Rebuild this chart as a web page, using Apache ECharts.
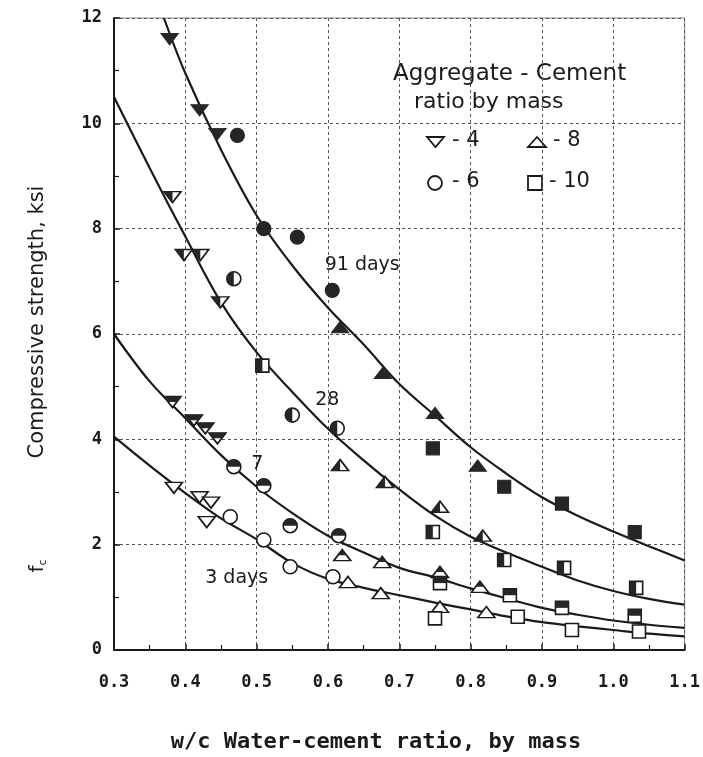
<!DOCTYPE html>
<html><head><meta charset="utf-8">
<script src="https://cdn.jsdelivr.net/npm/echarts/dist/echarts.min.js"></script>
<style>html,body{margin:0;padding:0;background:#fff}#c{width:703px;height:757px}</style>
</head><body><div id="c"></div>
<script>
// ---- axis ----
const xMin = 0.3, xMax = 1.1, xStep = 0.1;
const yMin = 0, yMax = 12, yStep = 2;

// ---- fitted curves ----
const curve91 = [[0.37,12.0],[0.4,10.95],[0.45,9.5],[0.5,8.25],[0.55,7.3],[0.6,6.5],[0.65,5.8],[0.7,5.05],[0.75,4.45],[0.8,3.85],[0.85,3.35],[0.9,2.9],[0.95,2.55],[1.0,2.25],[1.05,1.97],[1.1,1.7]];
const curve28 = [[0.3,10.5],[0.35,9.15],[0.4,7.85],[0.45,6.6],[0.5,5.65],[0.55,4.9],[0.6,4.2],[0.65,3.6],[0.7,3.05],[0.75,2.55],[0.8,2.15],[0.85,1.85],[0.9,1.58],[0.95,1.32],[1.0,1.12],[1.05,0.97],[1.1,0.86]];
const curve7  = [[0.3,6.0],[0.35,5.1],[0.4,4.4],[0.45,3.7],[0.5,3.1],[0.55,2.6],[0.6,2.17],[0.65,1.85],[0.7,1.56],[0.75,1.38],[0.8,1.17],[0.85,0.98],[0.9,0.8],[0.95,0.67],[1.0,0.56],[1.05,0.48],[1.1,0.42]];
const curve3  = [[0.3,4.05],[0.35,3.5],[0.4,2.98],[0.45,2.5],[0.5,2.1],[0.55,1.65],[0.6,1.35],[0.65,1.18],[0.7,1.04],[0.75,0.9],[0.8,0.77],[0.85,0.64],[0.9,0.53],[0.95,0.45],[1.0,0.38],[1.05,0.31],[1.1,0.26]];

// ---- measured points: age (days) x aggregate-cement ratio ----
const d91_r4  = [[0.378,11.6],[0.42,10.25],[0.445,9.8]];
const d91_r6  = [[0.473,9.77],[0.51,8.0],[0.557,7.84],[0.606,6.83]];
const d91_r8  = [[0.617,6.13],[0.677,5.26],[0.75,4.5],[0.81,3.5]];
const d91_r10 = [[0.747,3.83],[0.847,3.1],[0.928,2.78],[1.03,2.24]];

const d28_r4  = [[0.382,8.6],[0.398,7.5],[0.421,7.5],[0.449,6.6]];
const d28_r6  = [[0.468,7.05],[0.55,4.46],[0.613,4.21]];
const d28_r8  = [[0.617,3.51],[0.68,3.19],[0.757,2.72],[0.817,2.17]];
const d28_r10 = [[0.508,5.4],[0.747,2.24],[0.847,1.71],[0.931,1.56],[1.032,1.18]];

const d7_r4  = [[0.382,4.71],[0.412,4.36],[0.428,4.21],[0.445,4.02]];
const d7_r6  = [[0.468,3.48],[0.51,3.12],[0.547,2.36],[0.615,2.17]];
const d7_r8  = [[0.62,1.8],[0.676,1.67],[0.757,1.48],[0.813,1.2]];
const d7_r10 = [[0.757,1.27],[0.855,1.04],[0.928,0.8],[1.03,0.65]];

const d3_r4  = [[0.384,3.08],[0.42,2.9],[0.436,2.8],[0.43,2.43]];
const d3_r6  = [[0.463,2.53],[0.51,2.09],[0.547,1.58],[0.607,1.39]];
const d3_r8  = [[0.628,1.29],[0.674,1.08],[0.757,0.82],[0.822,0.72]];
const d3_r10 = [[0.75,0.6],[0.866,0.63],[0.942,0.38],[1.036,0.35]];

// ---- curve labels ----
const curveLabelText = ['91 days', '28', '7', '3 days'];
const curveLabelAt = [[0.648,7.31],[0.599,4.75],[0.501,3.53],[0.472,1.37]];

const INK = '#1a1a1a';
const FONT = '"DejaVu Sans", sans-serif';
const MONO = '"DejaVu Sans Mono", monospace';

const shape = {
  r4:  {sym:'path://M0,0 L20,0 L10,12 Z', size:[17,11]},
  r6:  {sym:'circle', size:[14,14]},
  r8:  {sym:'path://M10,0 L20,12 L0,12 Z', size:[17,11]},
  r10: {sym:'rect', size:[13,13]}
};
const halfLeft = {
  r4:  {sym:'path://M0,0 L10,0 L10,12 Z', size:[8.5,11], off:[-4.25,0]},
  r6:  {sym:'path://M10,0 A10,10 0 0 0 10,20 Z', size:[7,14], off:[-3.5,0]},
  r8:  {sym:'path://M10,0 L10,12 L0,12 Z', size:[8.5,11], off:[-4.25,0]},
  r10: {sym:'rect', size:[6.5,13], off:[-3.25,0]}
};
const halfTop = {
  r4:  {sym:'path://M0,0 L20,0 L15,6 L5,6 Z', size:[17,5.5], off:[0,-2.75]},
  r6:  {sym:'path://M0,10 A10,10 0 0 1 20,10 Z', size:[14,7], off:[0,-3.5]},
  r8:  {sym:'path://M10,0 L15,6 L5,6 Z', size:[8.5,5.5], off:[0,-2.75]},
  r10: {sym:'rect', size:[13,6.5], off:[0,-3.25]}
};

const groups = [
  {fill:'full', sets:{r4:d91_r4, r6:d91_r6, r8:d91_r8, r10:d91_r10}},
  {fill:'left', sets:{r4:d28_r4, r6:d28_r6, r8:d28_r8, r10:d28_r10}},
  {fill:'top',  sets:{r4:d7_r4,  r6:d7_r6,  r8:d7_r8,  r10:d7_r10}},
  {fill:'none', sets:{r4:d3_r4,  r6:d3_r6,  r8:d3_r8,  r10:d3_r10}}
];

const series = [];
[curve91, curve28, curve7, curve3].forEach(c => {
  series.push({type:'line', data:c, smooth:0.35, symbol:'none', z:2,
    lineStyle:{color:INK, width:2.2}, silent:true});
});
groups.forEach(g => {
  Object.keys(g.sets).forEach(k => {
    const s = shape[k];
    series.push({type:'scatter', data:g.sets[k], symbol:s.sym, symbolSize:s.size, z:3,
      itemStyle: g.fill === 'full'
        ? {color:'#262626', borderColor:'#262626', borderWidth:1.2, opacity:1}
        : {color:'#fff', borderColor:INK, borderWidth:1.6, opacity:1}});
    if (g.fill === 'left' || g.fill === 'top') {
      const h = (g.fill === 'left' ? halfLeft : halfTop)[k];
      series.push({type:'scatter', data:g.sets[k], symbol:h.sym, symbolSize:h.size,
        symbolOffset:h.off, z:4, itemStyle:{color:'#262626', borderWidth:0, opacity:1}});
    }
  });
});

const chart = echarts.init(document.getElementById('c'), null, {renderer:'canvas'});
const axisBase = {
  axisLine:{show:true, lineStyle:{color:INK, width:2}},
  axisTick:{show:true, inside:true, length:6, lineStyle:{color:INK, width:1.5}},
  minorTick:{show:true, splitNumber:2, length:5, lineStyle:{color:INK, width:1.2}},
  splitLine:{show:true, lineStyle:{color:'#555', width:1, type:[3,3]}}
};
const staticGraphics = [
  {id:'t1', type:'text', left:393, top:63, style:{text:'Aggregate - Cement', font:'23px '+FONT, fill:INK}},
  {id:'t2', type:'text', left:414, top:91, style:{text:'ratio by mass', font:'22px '+FONT, fill:INK}},
  {id:'s4', type:'polygon', shape:{points:[[427,137],[444,137],[435.5,147]]}, style:{fill:'#fff', stroke:INK, lineWidth:1.8}},
  {id:'l4', type:'text', left:452, top:130, style:{text:'- 4', font:'21px '+FONT, fill:INK}},
  {id:'s8', type:'polygon', shape:{points:[[537,137],[546,147],[528,147]]}, style:{fill:'#fff', stroke:INK, lineWidth:1.8}},
  {id:'l8', type:'text', left:553, top:130, style:{text:'- 8', font:'21px '+FONT, fill:INK}},
  {id:'s6', type:'circle', shape:{cx:435, cy:183, r:7}, style:{fill:'#fff', stroke:INK, lineWidth:1.8}},
  {id:'l6', type:'text', left:452, top:171, style:{text:'- 6', font:'21px '+FONT, fill:INK}},
  {id:'s10', type:'rect', shape:{x:528, y:176, width:14, height:14}, style:{fill:'#fff', stroke:INK, lineWidth:1.8}},
  {id:'l10', type:'text', left:549, top:171, style:{text:'- 10', font:'21px '+FONT, fill:INK}},
  {id:'yn', type:'text', x:38, y:322, rotation:Math.PI/2, style:{text:'Compressive strength, ksi', font:'21px '+FONT, fill:INK, align:'center', verticalAlign:'middle'}},
  {id:'yf', type:'text', x:38, y:566, rotation:Math.PI/2, style:{text:'{f|f}{s|c}', rich:{f:{font:'20px '+FONT, fill:INK}, s:{font:'11px '+FONT, fill:INK, padding:[10,0,0,0]}}, align:'center', verticalAlign:'middle'}},
  {id:'xn', type:'text', x:376, y:742, style:{text:'w/c Water-cement ratio, by mass', font:'bold 22px '+MONO, fill:INK, align:'center', verticalAlign:'middle'}}
];
chart.setOption({
  animation:false,
  backgroundColor:'#fff',
  grid:{left:114, right:16, top:18, bottom:107, show:true, borderColor:'#888', borderWidth:1},
  xAxis:Object.assign({type:'value', min:xMin, max:xMax, interval:xStep,
    axisLabel:{margin:24, color:INK, fontFamily:MONO, fontSize:17, fontWeight:'bold',
      formatter:v => v.toFixed(1)}}, axisBase),
  yAxis:Object.assign({type:'value', min:yMin, max:yMax, interval:yStep,
    axisLabel:{margin:12, color:INK, fontFamily:MONO, fontSize:17, fontWeight:'bold'}}, axisBase),
  series:series,
  graphic:staticGraphics
});
const labelGraphics = curveLabelText.map((t, i) => {
  const p = chart.convertToPixel({gridIndex:0}, curveLabelAt[i]);
  return {id:'cl'+i, type:'text', x:p[0], y:p[1], z:10,
    style:{text:t, font:'19px '+FONT, fill:INK, align:'center', verticalAlign:'middle'}};
});
chart.setOption({graphic:staticGraphics.concat(labelGraphics)});
</script></body></html>
